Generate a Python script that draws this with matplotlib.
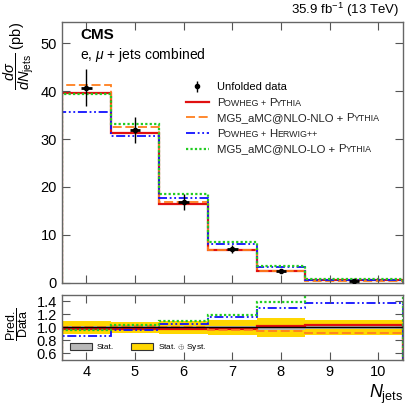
import numpy as np
import matplotlib
matplotlib.use("Agg")
import matplotlib.pyplot as plt
from matplotlib.patches import Patch
from matplotlib.lines import Line2D

plt.rcParams['font.family'] = ['Liberation Sans', 'DejaVu Sans']
plt.rcParams['mathtext.fontset'] = 'custom'
plt.rcParams['mathtext.rm'] = 'Liberation Sans'
plt.rcParams['mathtext.it'] = 'Liberation Sans:italic'
plt.rcParams['mathtext.bf'] = 'Liberation Sans:bold'

# Binning and values
edges = [3.5, 4.5, 5.5, 6.5, 7.5, 8.5, 10.5]
centers = [4, 5, 6, 7, 8, 9.5]
data = [40.7, 31.9, 16.8, 7.1, 2.5, 0.48]
rel_tot = [0.095, 0.085, 0.10, 0.12, 0.145, 0.115]
rel_stat = [0.02, 0.02, 0.02, 0.025, 0.035, 0.03]

pow_pythia = [39.7, 31.2, 16.4, 6.9, 2.55, 0.50]
mg5_nlo = [41.2, 32.6, 16.9, 6.8, 2.38, 0.437]
pow_herwig = [35.6, 30.6, 17.8, 8.2, 3.25, 0.66]
mg5_lo = [39.4, 33.1, 18.5, 8.5, 3.47, 0.75]

x_ticks = [4, 5, 6, 7, 8, 9, 10]

models = [
    (pow_pythia, '#e01010', '-', 1.6),
    (mg5_nlo, '#ff7f1e', (0, (5, 2)), 1.3),
    (pow_herwig, '#1010ff', (0, (5, 1.5, 1, 1.5, 1, 1.5)), 1.3),
    (mg5_lo, '#22cc22', (0, (1, 1)), 1.6),
]

fig = plt.figure(figsize=(4.07, 4.07), dpi=100)
ax = fig.add_axes([0.152, 0.305, 0.837, 0.642])
rax = fig.add_axes([0.152, 0.1155, 0.837, 0.16])

data_arr = np.array(data)

# ---- top panel ----
handles = []
for vals, col, ls, lw in models:
    ax.stairs(vals, edges, baseline=0, color=col, lw=lw, linestyle=ls)
    handles.append(Line2D([], [], color=col, lw=lw, linestyle=ls))

yerr = data_arr * np.array(rel_tot)
hd = ax.errorbar(centers, data, yerr=yerr, fmt='o', color='black', ms=3,
                 elinewidth=1, capsize=0, zorder=10)
ax.hlines(data, np.array(centers) - 0.11, np.array(centers) + 0.11,
          color='black', lw=2, zorder=10)

ax.set_xlim(3.5, 10.5)
ax.set_ylim(0, 54.5)
ax.set_yticks([0, 10, 20, 30, 40, 50])
ax.set_xticks(x_ticks)
ax.tick_params(labelbottom=False)

leg = ax.legend([hd] + handles,
                ['Unfolded data', ' ', ' ', ' ', ' '],
                loc='upper left', bbox_to_anchor=(0.363, 0.768), frameon=False,
                fontsize=8, handlelength=2.1, handletextpad=0.7,
                labelspacing=0.5, borderaxespad=0, borderpad=0)
leg.set_zorder(5)

# small caps labels, chained after the blank legend texts
BIG, SMALL = 8.2, 6.4
smallcaps = [
    None,
    [('P', BIG), ('OWHEG + ', SMALL), ('P', BIG), ('YTHIA', SMALL)],
    [('MG5_aMC@NLO-NLO + ', BIG), ('P', BIG), ('YTHIA', SMALL)],
    [('P', BIG), ('OWHEG + ', SMALL), ('H', BIG), ('ERWIG++', SMALL)],
    [('MG5_aMC@NLO-LO + ', BIG), ('P', BIG), ('YTHIA', SMALL)],
]
for txt, parts in zip(leg.get_texts(), smallcaps):
    if parts is None:
        continue
    prev = txt
    first = True
    for s, fs in parts:
        a = ax.annotate(s, xy=(0, 0) if first else (1, 0), xycoords=prev,
                        ha='left', va='bottom', fontsize=fs, color='#222222',
                        zorder=20, annotation_clip=False)
        prev = a
        first = False

ax.text(0.055, 0.975, 'CMS', transform=ax.transAxes, fontsize=11,
        fontweight='bold', va='top', ha='left')
ax.text(0.052, 0.905, r'e, $\mu$ + jets combined', transform=ax.transAxes,
        fontsize=10, va='top', ha='left')
ax.text(0.991, 1.028, r'35.9 fb$^{-1}$ (13 TeV)', transform=ax.transAxes,
        fontsize=9.5, va='baseline', ha='right')

ax.set_ylabel(r'$\dfrac{d\sigma}{dN_{\mathrm{jets}}}$ (pb)', fontsize=10.5, loc='top')
ax.yaxis.set_label_coords(-0.077, 1.0)

# ---- ratio panel ----
ones = np.ones(len(data))
tot = np.array(rel_tot)
stat = np.array(rel_stat)
rax.stairs(ones + tot, edges, baseline=ones - tot, fill=True, color='#ffd700', lw=0)
rax.stairs(ones + stat, edges, baseline=ones - stat, fill=True, color='#b8b8b8', lw=0)
rax.hlines(1.0, 3.5, 10.5, color='black', lw=1)
for vals, col, ls, lw in models:
    rax.stairs(np.array(vals) / data_arr, edges, baseline=0, color=col, lw=lw,
               linestyle=ls)

rax.set_xlim(3.5, 10.5)
rax.set_ylim(0.5, 1.5)
rax.set_yticks([0.6, 0.8, 1.0, 1.2, 1.4])
rax.set_xticks(x_ticks)
rax.set_ylabel(r'$\dfrac{\mathrm{Pred.}}{\mathrm{Data}}$', fontsize=9)
rax.yaxis.set_label_coords(-0.094, 0.55)

band_handles = [Patch(facecolor='#b8b8b8', edgecolor='#333333', lw=0.8),
                Patch(facecolor='#ffd700', edgecolor='#333333', lw=0.8)]
rax.legend(band_handles, ['Stat.', r'Stat. $\oplus$ Syst.'], ncol=2,
           loc='lower left', bbox_to_anchor=(0.025, 0.1), frameon=False,
           fontsize=6, handlelength=2.6, handleheight=0.9, handletextpad=0.6,
           columnspacing=2.0, borderaxespad=0, borderpad=0)

fig.text(0.99, 0.022, r'$N_{\mathrm{jets}}$', ha='right', va='baseline', fontsize=13)

for a in (ax, rax):
    a.tick_params(direction='in', top=True, right=True, length=6, width=0.8,
                  labelsize=10.5, color='#555555')
    for sp in a.spines.values():
        sp.set_color('#666666')
        sp.set_linewidth(1.0)

fig.savefig('out.png', dpi=100)
